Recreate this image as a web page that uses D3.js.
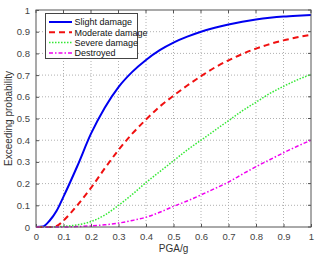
<!DOCTYPE html>
<html>
<head>
<meta charset="utf-8">
<script src="https://cdn.jsdelivr.net/npm/d3@7"></script>
<style>
  body { margin: 0; background: #fff; }
  text { font-family: "Liberation Sans", Arial, sans-serif; }
</style>
</head>
<body>
<script>
// values
var pga = [0, 0.025, 0.05, 0.075, 0.1, 0.15, 0.2, 0.25, 0.3, 0.35, 0.4, 0.45, 0.5, 0.55, 0.6, 0.65, 0.7, 0.75, 0.8, 0.85, 0.9, 0.95, 1];
var slight   = [0, 0.002, 0.03, 0.075, 0.14, 0.28, 0.43, 0.55, 0.645, 0.715, 0.77, 0.815, 0.85, 0.877, 0.9, 0.918, 0.933, 0.946, 0.956, 0.964, 0.97, 0.974, 0.977];
var moderate = [0, 0, 0, 0.005, 0.03, 0.1, 0.18, 0.27, 0.355, 0.43, 0.495, 0.555, 0.605, 0.652, 0.695, 0.735, 0.768, 0.797, 0.822, 0.843, 0.86, 0.874, 0.886];
var severe   = [0, 0, 0, 0.001, 0.003, 0.01, 0.025, 0.055, 0.1, 0.15, 0.205, 0.255, 0.305, 0.355, 0.4, 0.445, 0.49, 0.535, 0.575, 0.615, 0.648, 0.678, 0.703];
var destroyed= [0, 0, 0, 0, 0, 0.002, 0.005, 0.01, 0.018, 0.03, 0.045, 0.068, 0.095, 0.12, 0.148, 0.177, 0.207, 0.243, 0.278, 0.31, 0.342, 0.372, 0.4];
var names = ["Slight damage", "Moderate damage", "Severe damage", "Destroyed"];
var xTicks = [0, 0.1, 0.2, 0.3, 0.4, 0.5, 0.6, 0.7, 0.8, 0.9, 1];
var yTicks = [0, 0.1, 0.2, 0.3, 0.4, 0.5, 0.6, 0.7, 0.8, 0.9, 1];

var width = 320, height = 262;
var pLeft = 36, pRight = 311, pTop = 10, pBottom = 227;

var svg = d3.select("body").append("svg")
    .attr("width", width)
    .attr("height", height);

var x = d3.scaleLinear().domain([0, 1]).range([pLeft, pRight]);
var y = d3.scaleLinear().domain([0, 1]).range([pBottom, pTop]);

var series = [
  {name: names[0], values: slight,    color: "#0000f0", width: 2,   dash: null},
  {name: names[1], values: moderate,  color: "#f01010", width: 2,   dash: "6,4"},
  {name: names[2], values: severe,    color: "#33e833", width: 1.5, dash: "1.5,1.5"},
  {name: names[3], values: destroyed, color: "#f000f0", width: 1.5, dash: "4,2,1.5,2"}
];

// grid
svg.append("g").selectAll("line").data(xTicks.slice(1, -1)).enter().append("line")
  .attr("x1", d => x(d)).attr("x2", d => x(d))
  .attr("y1", pTop).attr("y2", pBottom)
  .attr("stroke", "#b0b0b0").attr("stroke-width", 1).attr("stroke-dasharray", "1,2");
svg.append("g").selectAll("line").data(yTicks.slice(1, -1)).enter().append("line")
  .attr("y1", d => y(d)).attr("y2", d => y(d))
  .attr("x1", pLeft).attr("x2", pRight)
  .attr("stroke", "#b0b0b0").attr("stroke-width", 1).attr("stroke-dasharray", "1,2");

// axes
var xAxis = d3.axisBottom(x).tickValues(xTicks).tickSizeInner(-3).tickSizeOuter(0).tickPadding(6)
  .tickFormat(d3.format("~g"));
var yAxis = d3.axisLeft(y).tickValues(yTicks).tickSizeInner(-3).tickSizeOuter(0).tickPadding(6)
  .tickFormat(d3.format("~g"));

var gx = svg.append("g").attr("transform", "translate(0," + pBottom + ")").call(xAxis);
var gy = svg.append("g").attr("transform", "translate(" + pLeft + ",0)").call(yAxis);
[gx, gy].forEach(function(g) {
  g.select(".domain").remove();
  g.selectAll(".tick line").attr("stroke", "#555");
  g.selectAll(".tick text").attr("fill", "#444").style("font-size", "9.5px")
    .style("font-family", "'Liberation Sans', Arial, sans-serif");
});
// top/right ticks
svg.append("g").selectAll("line").data(xTicks).enter().append("line")
  .attr("x1", d => x(d)).attr("x2", d => x(d)).attr("y1", pTop).attr("y2", pTop + 3)
  .attr("stroke", "#555");
svg.append("g").selectAll("line").data(yTicks).enter().append("line")
  .attr("y1", d => y(d)).attr("y2", d => y(d)).attr("x1", pRight).attr("x2", pRight - 3)
  .attr("stroke", "#555");

// curves
var line = d3.line()
  .x((d, i) => x(pga[i]))
  .y(d => y(d))
  .curve(d3.curveMonotoneX);

svg.append("g").selectAll("path").data(series).enter().append("path")
  .attr("d", d => line(d.values))
  .attr("fill", "none")
  .attr("stroke", d => d.color)
  .attr("stroke-width", d => d.width)
  .attr("stroke-dasharray", d => d.dash);

// box
svg.append("rect")
  .attr("x", pLeft).attr("y", pTop)
  .attr("width", pRight - pLeft).attr("height", pBottom - pTop)
  .attr("fill", "none").attr("stroke", "#555").attr("stroke-width", 1);

// legend
var lg = svg.append("g");
lg.append("rect")
  .attr("x", 45.5).attr("y", 13.5).attr("width", 92).attr("height", 45)
  .attr("fill", "#fff").attr("stroke", "#444").attr("stroke-width", 1);
var items = lg.selectAll("g.item").data(series).enter().append("g")
  .attr("transform", (d, i) => "translate(0," + (22 + i * 10.3) + ")");
items.append("line")
  .attr("x1", 49).attr("x2", 72).attr("y1", 0).attr("y2", 0)
  .attr("stroke", d => d.color)
  .attr("stroke-width", d => d.width)
  .attr("stroke-dasharray", d => d.dash);
items.append("text")
  .attr("x", 74.5).attr("y", 3.3)
  .attr("fill", "#111")
  .style("font-size", "9px")
  .text(d => d.name);

// axis labels
svg.append("text")
  .attr("x", (pLeft + pRight) / 2).attr("y", 252)
  .attr("text-anchor", "middle")
  .attr("fill", "#333")
  .style("font-size", "10px")
  .text("PGA/g");
svg.append("text")
  .attr("transform", "translate(12," + ((pTop + pBottom) / 2) + ") rotate(-90)")
  .attr("text-anchor", "middle")
  .attr("fill", "#333")
  .style("font-size", "10px")
  .text("Exceeding probability");
</script>
</body>
</html>
